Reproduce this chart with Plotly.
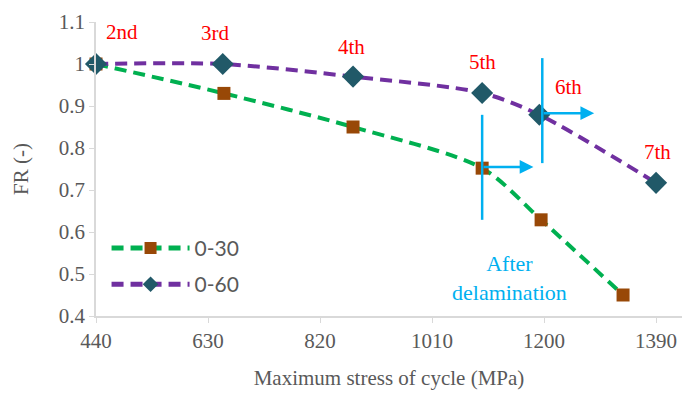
import plotly.graph_objects as go

# Data
stress_030 = [440, 657, 876, 1095, 1195, 1334]
fr_030 = [1.0, 0.93, 0.85, 0.752, 0.629, 0.45]
stress_060 = [440, 655, 876, 1095, 1192, 1390]
fr_060 = [1.0, 1.0, 0.97, 0.931, 0.879, 0.717]
x_ticks = [440, 630, 820, 1010, 1200, 1390]
y_ticks = [0.4, 0.5, 0.6, 0.7, 0.8, 0.9, 1.0, 1.1]
y_ticklabels = ["0.4", "0.5", "0.6", "0.7", "0.8", "0.9", "1", "1.1"]
cycle_labels = ["2nd", "3rd", "4th", "5th", "6th", "7th"]
cycle_label_x = [484, 642, 873, 1096, 1241, 1393]
cycle_label_y = [1.076, 1.074, 1.04, 1.005, 0.945, 0.79]

GRAY = "#595959"
SERIF = "Liberation Serif, Times New Roman, serif"
BLUE = "#00b0f0"

fig = go.Figure()
fig.add_trace(go.Scatter(
    x=stress_030, y=fr_030, name="0-30", mode="lines+markers",
    line=dict(color="#00b050", width=4, dash="12px,7px", shape="spline", smoothing=0.8),
    marker=dict(symbol="square", size=13, color="#984807"),
    cliponaxis=False, legendgroup="a",
))
fig.add_trace(go.Scatter(
    x=stress_060, y=fr_060, name="0-60", mode="lines+markers",
    line=dict(color="#7030a0", width=4, dash="12px,7px", shape="spline", smoothing=0.8),
    marker=dict(symbol="diamond", size=17, color="#215968"),
    cliponaxis=False, legendgroup="b",
))

for t, x, y in zip(cycle_labels, cycle_label_x, cycle_label_y):
    fig.add_annotation(x=x, y=y, text=t, showarrow=False,
                       font=dict(family=SERIF, size=21, color="#ff0000"))

fig.add_annotation(x=1141, y=0.49, text="After<br>delamination", showarrow=False,
                   font=dict(family=SERIF, size=22, color=BLUE), align="center")

# delamination markers
fig.add_shape(type="line", x0=1095, x1=1095, y0=0.629, y1=0.879,
              line=dict(color=BLUE, width=2.5))
fig.add_shape(type="line", x0=1197, x1=1197, y0=0.764, y1=1.014,
              line=dict(color=BLUE, width=2.5))
fig.add_annotation(x=1182, y=0.755, ax=1095, ay=0.755, axref="x", ayref="y",
                   xref="x", yref="y", text="", showarrow=True,
                   arrowhead=2, arrowsize=1.1, arrowwidth=2.5, arrowcolor=BLUE)
fig.add_annotation(x=1285, y=0.883, ax=1197, ay=0.883, axref="x", ayref="y",
                   xref="x", yref="y", text="", showarrow=True,
                   arrowhead=2, arrowsize=1.1, arrowwidth=2.5, arrowcolor=BLUE)

fig.update_layout(
    width=682, height=394,
    margin=dict(l=96, r=0, t=22, b=78),
    paper_bgcolor="white", plot_bgcolor="white",
    showlegend=True,
    legend=dict(x=0.018, y=0.3, xanchor="left", yanchor="top",
                font=dict(family="Lato, sans-serif", size=21, color=GRAY),
                itemwidth=78, itemsizing="constant", tracegroupgap=6,
                bgcolor="rgba(0,0,0,0)"),
    xaxis=dict(range=[440, 1434], tickmode="array", tickvals=x_ticks,
               ticktext=[str(v) for v in x_ticks],
               showgrid=False, zeroline=False, showline=True, linecolor="#d9d9d9",
               linewidth=1.5, ticks="outside", ticklen=5, tickcolor="#d9d9d9",
               tickfont=dict(family=SERIF, size=21, color=GRAY),
               title=dict(text="Maximum stress of cycle (MPa)", standoff=18,
                          font=dict(family=SERIF, size=21, color=GRAY))),
    yaxis=dict(range=[0.4, 1.1], tickmode="array", tickvals=y_ticks,
               ticktext=y_ticklabels,
               showgrid=False, zeroline=False, showline=True, linecolor="#d9d9d9",
               linewidth=1.5, ticks="outside", ticklen=5, tickcolor="#d9d9d9",
               tickfont=dict(family=SERIF, size=21, color=GRAY),
               title=dict(text="FR (-)", standoff=24,
                          font=dict(family=SERIF, size=21, color=GRAY))),
)

fig.write_html("out.html")
